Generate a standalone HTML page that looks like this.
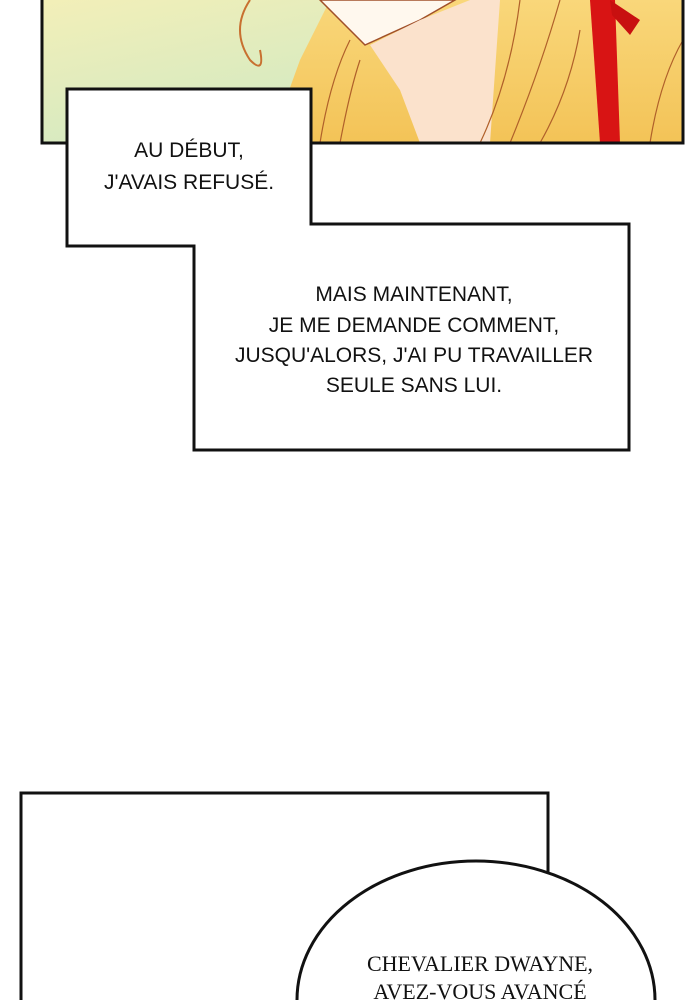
<!DOCTYPE html>
<html><head><meta charset="utf-8"><style>
html,body{margin:0;padding:0;background:#fff;width:700px;height:1000px;overflow:hidden}
svg{display:block}
text{font-family:"Liberation Sans",sans-serif;font-size:21px;fill:#111;text-anchor:middle}
</style></head><body>
<svg width="700" height="1000" viewBox="0 0 700 1000">
<defs>
<linearGradient id="bg" x1="0" y1="0" x2="1" y2="1">
<stop offset="0" stop-color="#f3efb8"/><stop offset="1" stop-color="#bfe6c8"/>
</linearGradient>
<linearGradient id="hair" x1="0" y1="0" x2="0" y2="1">
<stop offset="0" stop-color="#f9d77a"/><stop offset="1" stop-color="#f3c357"/>
</linearGradient>
</defs>
<rect x="42" y="-2" width="641" height="145" fill="url(#bg)" stroke="#111" stroke-width="3"/>
<path d="M270 143 L300 60 L330 0 L683 0 L683 143 Z" fill="url(#hair)"/>
<path d="M320 0 L365 45 L420 20 L455 0 Z" fill="#fff8ee" stroke="#a0502a" stroke-width="1.5"/>
<path d="M370 45 L420 20 L470 0 L500 0 L490 143 L420 143 L400 90 Z" fill="#fbe2cc"/>
<path d="M590 0 L615 0 L620 143 L600 143 Z" fill="#d81414"/>
<path d="M610 0 L640 20 L630 35 L612 15 Z" fill="#c81010"/>
<path d="M250 0 Q230 30 250 60 Q265 75 260 50" fill="none" stroke="#c87030" stroke-width="2"/>
<g fill="none" stroke="#b0602a" stroke-width="1.2">
<path d="M320 143 Q330 80 350 40"/><path d="M340 143 Q350 90 360 60"/>
<path d="M480 143 Q510 80 520 0"/><path d="M510 143 Q540 70 560 0"/>
<path d="M540 143 Q570 90 580 30"/><path d="M650 143 Q660 80 683 40"/>
</g>
<rect x="42" y="-2" width="641" height="145" fill="none" stroke="#111" stroke-width="3"/>
<path d="M67 89 L311 89 L311 224 L629 224 L629 450 L194 450 L194 246 L67 246 Z" fill="#fff" stroke="#111" stroke-width="3"/>
<text x="189" y="157">AU DÉBUT,</text>
<text x="189" y="189">J'AVAIS REFUSÉ.</text>
<text x="414" y="301">MAIS MAINTENANT,</text>
<text x="414" y="332">JE ME DEMANDE COMMENT,</text>
<text x="414" y="362">JUSQU'ALORS, J'AI PU TRAVAILLER</text>
<text x="414" y="392">SEULE SANS LUI.</text>
<rect x="21" y="793" width="527" height="209" fill="#fff" stroke="#111" stroke-width="3"/>
<ellipse cx="476" cy="1000" rx="179" ry="139" fill="#fff" stroke="#111" stroke-width="3"/>
<text x="480" y="971" style="font-family:'Liberation Serif',serif;font-size:22px;font-weight:500">CHEVALIER DWAYNE,</text>
<text x="480" y="999" style="font-family:'Liberation Serif',serif;font-size:22px;font-weight:500">AVEZ-VOUS AVANCÉ</text>
</svg>
</body></html>
